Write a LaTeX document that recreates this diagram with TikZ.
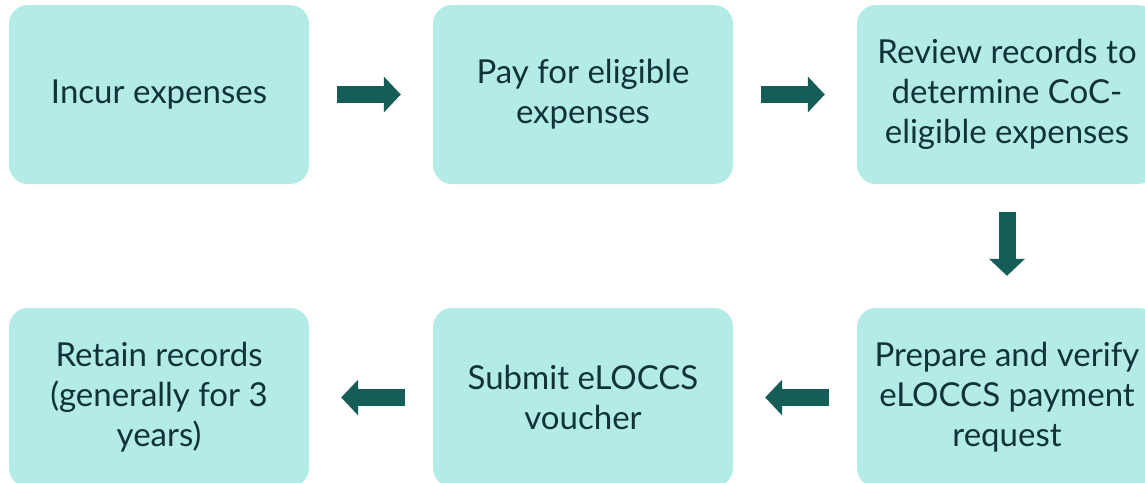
\documentclass[tikz,border=0pt]{standalone}
\usepackage{fontspec}
\setmainfont{Lato}
\usetikzlibrary{arrows.meta}

\definecolor{boxfill}{HTML}{B3ECE6}
\definecolor{arrowgreen}{HTML}{155E57}
\definecolor{textdark}{HTML}{12323A}

\tikzset{
  stepbox/.style={fill=boxfill, rounded corners=19pt, minimum width=300pt,
    minimum height=179pt, inner sep=0pt, align=center, text=textdark,
    font=\fontsize{33}{40}\selectfont},
  blockarrow/.style={draw=arrowgreen, line width=17pt,
    -{Triangle[length=17pt,width=35pt]}, shorten <=28pt, shorten >=32pt}
}

\begin{document}
\begin{tikzpicture}
			\useasboundingbox (0,0) rectangle (1145pt,-482pt);
			\clip (0,0) rectangle (1145pt,-482pt);
			% top row
			\node[stepbox] (incur) at (159pt, -94.5pt) {Incur expenses};
			\node[stepbox] (pay) at (583pt, -94.5pt) {Pay for eligible\\expenses};
			\node[stepbox] (review) at (1007pt, -94.5pt) {Review records to\\determine CoC-\\eligible expenses};
			% bottom row
			\node[stepbox] (prepare) at (1007pt, -397.5pt) {Prepare and verify\\eLOCCS payment\\request};
			\node[stepbox] (submit) at (583pt, -397.5pt) {Submit eLOCCS\\voucher};
			\node[stepbox] (retain) at (159pt, -397.5pt) {Retain records\\(generally for 3\\years)};
			% arrows
			\draw[blockarrow] (incur.east) -- (pay.west);
			\draw[blockarrow] (pay.east) -- (review.west);
			\draw[blockarrow] (review.south) -- (prepare.north);
			\draw[blockarrow] (prepare.west) -- (submit.east);
			\draw[blockarrow] (submit.west) -- (retain.east);
		\end{tikzpicture}
\end{document}
